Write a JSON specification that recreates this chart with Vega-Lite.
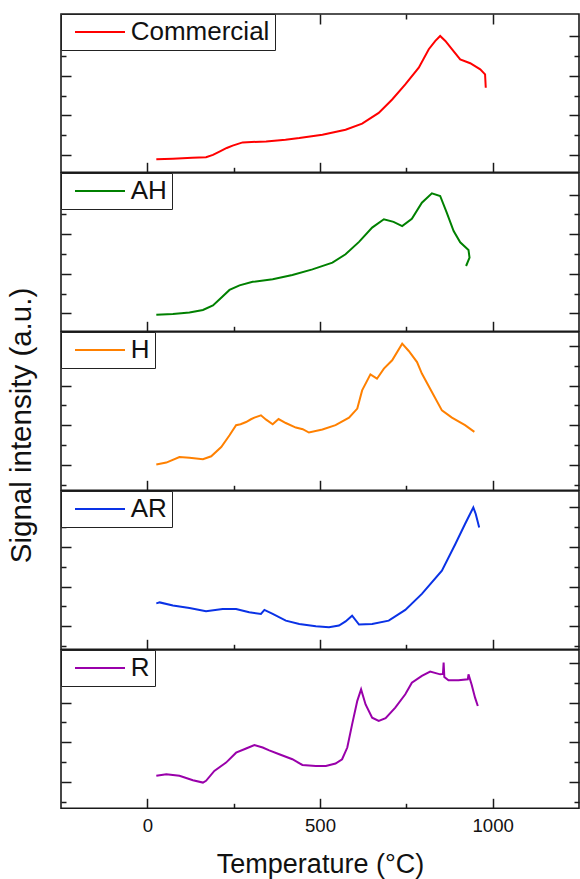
{
  "$schema": "https://vega.github.io/schema/vega-lite/v6.json",
  "autosize": {"type": "pad"},
  "padding": {"left": 5, "top": 12, "right": 0, "bottom": 8},
  "background": "white",
  "spacing": 0,
  "bounds": "flush",
  "config": {
    "font": "Liberation Sans",
    "view": {"stroke": "#1a1a1a", "strokeWidth": 1.6},
    "axis": {"domain": false, "grid": false, "labels": false, "tickColor": "#1a1a1a", "tickWidth": 1.5, "labelFont": "Liberation Sans", "titleFont": "Liberation Sans", "labelColor": "#111", "titleColor": "#111", "titleFontWeight": "normal"},
    "legend": {"titleFont": "Liberation Sans"},
    "line": {"strokeWidth": 2}
  },
  "resolve": {"scale": {"color": "independent", "x": "independent", "y": "independent"}, "legend": {"color": "independent"}},
  "datasets": {
    "commercial": [
      {"n":1,"t":26,"s":-0.22},{"n":2,"t":74,"s":-0.19},{"n":3,"t":130,"s":-0.15},{"n":4,"t":170,"s":-0.12},{"n":5,"t":190,"s":0.0},{"n":6,"t":209,"s":0.17},{"n":7,"t":230,"s":0.35},{"n":8,"t":247,"s":0.47},{"n":9,"t":276,"s":0.63},{"n":10,"t":344,"s":0.68},{"n":11,"t":400,"s":0.77},{"n":12,"t":440,"s":0.85},{"n":13,"t":507,"s":1.02},{"n":14,"t":574,"s":1.27},{"n":15,"t":622,"s":1.58},{"n":16,"t":670,"s":2.12},{"n":17,"t":709,"s":2.80},{"n":18,"t":747,"s":3.56},{"n":19,"t":786,"s":4.41},{"n":20,"t":815,"s":5.34},{"n":21,"t":834,"s":5.76},{"n":22,"t":848,"s":6.01},{"n":23,"t":863,"s":5.76},{"n":24,"t":882,"s":5.34},{"n":25,"t":906,"s":4.83},{"n":26,"t":935,"s":4.63},{"n":27,"t":964,"s":4.32},{"n":28,"t":978,"s":4.07},{"n":29,"t":980,"s":3.39}
    ],
    "ah": [
      {"n":1,"t":26,"s":-0.07},{"n":2,"t":74,"s":-0.03},{"n":3,"t":122,"s":0.04},{"n":4,"t":161,"s":0.17},{"n":5,"t":190,"s":0.40},{"n":6,"t":214,"s":0.79},{"n":7,"t":238,"s":1.18},{"n":8,"t":267,"s":1.41},{"n":9,"t":305,"s":1.59},{"n":10,"t":363,"s":1.72},{"n":11,"t":420,"s":1.94},{"n":12,"t":478,"s":2.22},{"n":13,"t":536,"s":2.56},{"n":14,"t":574,"s":2.98},{"n":15,"t":613,"s":3.61},{"n":16,"t":651,"s":4.33},{"n":17,"t":685,"s":4.75},{"n":18,"t":713,"s":4.62},{"n":19,"t":738,"s":4.41},{"n":20,"t":766,"s":4.78},{"n":21,"t":795,"s":5.59},{"n":22,"t":824,"s":6.06},{"n":23,"t":848,"s":5.93},{"n":24,"t":867,"s":5.09},{"n":25,"t":887,"s":4.16},{"n":26,"t":906,"s":3.59},{"n":27,"t":930,"s":3.20},{"n":28,"t":933,"s":2.81},{"n":29,"t":923,"s":2.39}
    ],
    "h": [
      {"n":1,"t":26,"s":1.01},{"n":2,"t":55,"s":1.11},{"n":3,"t":93,"s":1.39},{"n":4,"t":122,"s":1.36},{"n":5,"t":161,"s":1.28},{"n":6,"t":185,"s":1.43},{"n":7,"t":214,"s":1.90},{"n":8,"t":238,"s":2.49},{"n":9,"t":257,"s":3.00},{"n":10,"t":270,"s":3.05},{"n":11,"t":286,"s":3.16},{"n":12,"t":300,"s":3.30},{"n":13,"t":310,"s":3.38},{"n":14,"t":329,"s":3.50},{"n":15,"t":344,"s":3.28},{"n":16,"t":363,"s":3.05},{"n":17,"t":380,"s":3.31},{"n":18,"t":401,"s":3.11},{"n":19,"t":430,"s":2.88},{"n":20,"t":450,"s":2.80},{"n":21,"t":468,"s":2.63},{"n":22,"t":507,"s":2.78},{"n":23,"t":545,"s":3.00},{"n":24,"t":584,"s":3.38},{"n":25,"t":608,"s":3.84},{"n":26,"t":622,"s":4.76},{"n":27,"t":646,"s":5.57},{"n":28,"t":665,"s":5.35},{"n":29,"t":685,"s":5.86},{"n":30,"t":709,"s":6.28},{"n":31,"t":738,"s":7.12},{"n":32,"t":757,"s":6.75},{"n":33,"t":781,"s":6.19},{"n":34,"t":795,"s":5.61},{"n":35,"t":824,"s":4.68},{"n":36,"t":853,"s":3.75},{"n":37,"t":882,"s":3.38},{"n":38,"t":920,"s":3.00},{"n":39,"t":947,"s":2.66}
    ],
    "ar": [
      {"n":1,"t":26,"s":2.15},{"n":2,"t":36,"s":2.20},{"n":3,"t":74,"s":2.04},{"n":4,"t":122,"s":1.92},{"n":5,"t":170,"s":1.75},{"n":6,"t":218,"s":1.87},{"n":7,"t":257,"s":1.87},{"n":8,"t":295,"s":1.70},{"n":9,"t":329,"s":1.62},{"n":10,"t":339,"s":1.82},{"n":11,"t":363,"s":1.62},{"n":12,"t":401,"s":1.28},{"n":13,"t":440,"s":1.11},{"n":14,"t":488,"s":0.99},{"n":15,"t":526,"s":0.94},{"n":16,"t":555,"s":1.03},{"n":17,"t":574,"s":1.24},{"n":18,"t":593,"s":1.53},{"n":19,"t":613,"s":1.08},{"n":20,"t":651,"s":1.11},{"n":21,"t":699,"s":1.28},{"n":22,"t":747,"s":1.82},{"n":23,"t":795,"s":2.63},{"n":24,"t":853,"s":3.80},{"n":25,"t":892,"s":5.15},{"n":26,"t":920,"s":6.16},{"n":27,"t":944,"s":7.00},{"n":28,"t":951,"s":6.67},{"n":29,"t":961,"s":5.99}
    ],
    "r": [
      {"n":1,"t":26,"s":1.30},{"n":2,"t":55,"s":1.38},{"n":3,"t":93,"s":1.30},{"n":4,"t":132,"s":1.08},{"n":5,"t":161,"s":0.96},{"n":6,"t":170,"s":1.05},{"n":7,"t":194,"s":1.55},{"n":8,"t":228,"s":1.97},{"n":9,"t":257,"s":2.47},{"n":10,"t":286,"s":2.68},{"n":11,"t":310,"s":2.86},{"n":12,"t":334,"s":2.73},{"n":13,"t":353,"s":2.59},{"n":14,"t":382,"s":2.39},{"n":15,"t":420,"s":2.14},{"n":16,"t":449,"s":1.85},{"n":17,"t":488,"s":1.80},{"n":18,"t":517,"s":1.80},{"n":19,"t":545,"s":1.92},{"n":20,"t":564,"s":2.14},{"n":21,"t":579,"s":2.73},{"n":22,"t":593,"s":3.90},{"n":23,"t":608,"s":5.09},{"n":24,"t":619,"s":5.67},{"n":25,"t":632,"s":4.91},{"n":26,"t":651,"s":4.24},{"n":27,"t":670,"s":4.08},{"n":28,"t":690,"s":4.21},{"n":29,"t":718,"s":4.75},{"n":30,"t":747,"s":5.42},{"n":31,"t":766,"s":6.01},{"n":32,"t":795,"s":6.35},{"n":33,"t":819,"s":6.57},{"n":34,"t":848,"s":6.43},{"n":35,"t":856,"s":6.45},{"n":36,"t":858,"s":7.02},{"n":37,"t":860,"s":6.30},{"n":38,"t":872,"s":6.13},{"n":39,"t":901,"s":6.13},{"n":40,"t":928,"s":6.18},{"n":41,"t":930,"s":6.43},{"n":42,"t":939,"s":5.92},{"n":43,"t":949,"s":5.25},{"n":44,"t":957,"s":4.83}
    ]
  },
  "vconcat": [
    {
      "width": 518, "height": 158.3,
      "data": {"name": "commercial"},
      "layer": [
        {"mark": {"type": "line", "strokeWidth": 2},
         "encoding": {
           "x": {"field": "t", "type": "quantitative", "scale": {"domain": [-250, 1250], "nice": false, "zero": false}, "axis": {"orient": "bottom", "values": [0, 250, 500, 750, 1000], "title": null, "tickSize": {"condition": {"test": "datum.value % 500 === 0", "value": -10}, "value": -5}}},
           "y": {"field": "s", "type": "quantitative", "scale": {"domain": [-0.88, 7.12], "nice": false, "zero": false}, "axis": {"orient": "left", "values": [0, 1, 2, 3, 4, 5, 6], "title": null, "tickSize": {"condition": {"test": "datum.value % 2 === 0", "value": -10}, "value": -5}}},
           "color": {"datum": "Commercial", "type": "nominal", "scale": {"domain": ["Commercial"], "range": ["#ff0000"]}, "legend": {"title": null, "orient": "top-left", "offset": 0, "padding": 5, "strokeColor": "#222", "fillColor": "white", "symbolType": "M -1 0 H 11.5", "symbolSize": 64, "symbolStrokeWidth": 2, "labelFontSize": 26, "labelFont": "Liberation Sans", "labelColor": "#111", "labelOffset": 38.7, "labelLimit": 400}},
           "order": {"field": "n", "type": "quantitative"}
         }},
        {"mark": {"type": "line", "opacity": 0},
         "encoding": {
           "x": {"field": "t", "type": "quantitative", "scale": {"domain": [-250, 1250], "nice": false, "zero": false}, "axis": {"orient": "top", "values": [0, 250, 500, 750, 1000], "title": null, "tickSize": {"condition": {"test": "datum.value % 500 === 0", "value": -10}, "value": -5}}},
           "y": {"field": "s", "type": "quantitative", "scale": {"domain": [-0.88, 7.12], "nice": false, "zero": false}, "axis": {"orient": "right", "values": [0, 1, 2, 3, 4, 5, 6], "title": null, "tickSize": {"condition": {"test": "datum.value % 2 === 0", "value": -10}, "value": -5}}},
           "order": {"field": "n", "type": "quantitative"}
         }}
      ],
      "resolve": {"axis": {"x": "independent", "y": "independent"}}
    },
    {
      "width": 518, "height": 158.3,
      "data": {"name": "ah"},
      "layer": [
        {"mark": {"type": "line", "strokeWidth": 2},
         "encoding": {
           "x": {"field": "t", "type": "quantitative", "scale": {"domain": [-250, 1250], "nice": false, "zero": false}, "axis": {"orient": "bottom", "values": [0, 250, 500, 750, 1000], "title": null, "tickSize": {"condition": {"test": "datum.value % 500 === 0", "value": -10}, "value": -5}}},
           "y": {"field": "s", "type": "quantitative", "scale": {"domain": [-0.91, 7.09], "nice": false, "zero": false}, "axis": {"orient": "left", "values": [0, 1, 2, 3, 4, 5, 6], "title": null, "tickSize": {"condition": {"test": "datum.value % 2 === 0", "value": -10}, "value": -5}}},
           "color": {"datum": "AH", "type": "nominal", "scale": {"domain": ["AH"], "range": ["#008000"]}, "legend": {"title": null, "orient": "top-left", "offset": 0, "padding": 5, "strokeColor": "#222", "fillColor": "white", "symbolType": "M -1 0 H 11.5", "symbolSize": 64, "symbolStrokeWidth": 2, "labelFontSize": 26, "labelFont": "Liberation Sans", "labelColor": "#111", "labelOffset": 38.7, "labelLimit": 400}},
           "order": {"field": "n", "type": "quantitative"}
         }},
        {"mark": {"type": "line", "opacity": 0},
         "encoding": {
           "x": {"field": "t", "type": "quantitative", "scale": {"domain": [-250, 1250], "nice": false, "zero": false}, "axis": null},
           "y": {"field": "s", "type": "quantitative", "scale": {"domain": [-0.91, 7.09], "nice": false, "zero": false}, "axis": {"orient": "right", "values": [0, 1, 2, 3, 4, 5, 6], "title": null, "tickSize": {"condition": {"test": "datum.value % 2 === 0", "value": -10}, "value": -5}}},
           "order": {"field": "n", "type": "quantitative"}
         }}
      ],
      "resolve": {"axis": {"x": "independent", "y": "independent"}}
    },
    {
      "width": 518, "height": 158.3,
      "data": {"name": "h"},
      "layer": [
        {"mark": {"type": "line", "strokeWidth": 2},
         "encoding": {
           "x": {"field": "t", "type": "quantitative", "scale": {"domain": [-250, 1250], "nice": false, "zero": false}, "axis": {"orient": "bottom", "values": [0, 250, 500, 750, 1000], "title": null, "tickSize": {"condition": {"test": "datum.value % 500 === 0", "value": -10}, "value": -5}}},
           "y": {"field": "s", "type": "quantitative", "scale": {"domain": [-0.29, 7.71], "nice": false, "zero": false}, "axis": {"orient": "left", "values": [0, 1, 2, 3, 4, 5, 6, 7], "title": "Signal intensity (a.u.)", "titleFontSize": 29.5, "titleX": -25, "titleY": 93, "titleAngle": -90, "titleAlign": "center", "titleBaseline": "bottom", "tickSize": {"condition": {"test": "datum.value % 2 === 1", "value": -10}, "value": -5}}},
           "color": {"datum": "H", "type": "nominal", "scale": {"domain": ["H"], "range": ["#ff8000"]}, "legend": {"title": null, "orient": "top-left", "offset": 0, "padding": 5, "strokeColor": "#222", "fillColor": "white", "symbolType": "M -1 0 H 11.5", "symbolSize": 64, "symbolStrokeWidth": 2, "labelFontSize": 26, "labelFont": "Liberation Sans", "labelColor": "#111", "labelOffset": 38.7, "labelLimit": 400}},
           "order": {"field": "n", "type": "quantitative"}
         }},
        {"mark": {"type": "line", "opacity": 0},
         "encoding": {
           "x": {"field": "t", "type": "quantitative", "scale": {"domain": [-250, 1250], "nice": false, "zero": false}, "axis": null},
           "y": {"field": "s", "type": "quantitative", "scale": {"domain": [-0.29, 7.71], "nice": false, "zero": false}, "axis": {"orient": "right", "values": [0, 1, 2, 3, 4, 5, 6, 7], "title": null, "tickSize": {"condition": {"test": "datum.value % 2 === 1", "value": -10}, "value": -5}}},
           "order": {"field": "n", "type": "quantitative"}
         }}
      ],
      "resolve": {"axis": {"x": "independent", "y": "independent"}}
    },
    {
      "width": 518, "height": 158.3,
      "data": {"name": "ar"},
      "layer": [
        {"mark": {"type": "line", "strokeWidth": 2},
         "encoding": {
           "x": {"field": "t", "type": "quantitative", "scale": {"domain": [-250, 1250], "nice": false, "zero": false}, "axis": {"orient": "bottom", "values": [0, 250, 500, 750, 1000], "title": null, "tickSize": {"condition": {"test": "datum.value % 500 === 0", "value": -10}, "value": -5}}},
           "y": {"field": "s", "type": "quantitative", "scale": {"domain": [-0.17, 7.83], "nice": false, "zero": false}, "axis": {"orient": "left", "values": [0, 1, 2, 3, 4, 5, 6, 7], "title": null, "tickSize": {"condition": {"test": "datum.value % 2 === 1", "value": -10}, "value": -5}}},
           "color": {"datum": "AR", "type": "nominal", "scale": {"domain": ["AR"], "range": ["#0a32e6"]}, "legend": {"title": null, "orient": "top-left", "offset": 0, "padding": 5, "strokeColor": "#222", "fillColor": "white", "symbolType": "M -1 0 H 11.5", "symbolSize": 64, "symbolStrokeWidth": 2, "labelFontSize": 26, "labelFont": "Liberation Sans", "labelColor": "#111", "labelOffset": 38.7, "labelLimit": 400}},
           "order": {"field": "n", "type": "quantitative"}
         }},
        {"mark": {"type": "line", "opacity": 0},
         "encoding": {
           "x": {"field": "t", "type": "quantitative", "scale": {"domain": [-250, 1250], "nice": false, "zero": false}, "axis": null},
           "y": {"field": "s", "type": "quantitative", "scale": {"domain": [-0.17, 7.83], "nice": false, "zero": false}, "axis": {"orient": "right", "values": [0, 1, 2, 3, 4, 5, 6, 7], "title": null, "tickSize": {"condition": {"test": "datum.value % 2 === 1", "value": -10}, "value": -5}}},
           "order": {"field": "n", "type": "quantitative"}
         }}
      ],
      "resolve": {"axis": {"x": "independent", "y": "independent"}}
    },
    {
      "width": 518, "height": 158.3,
      "data": {"name": "r"},
      "layer": [
        {"mark": {"type": "line", "strokeWidth": 2},
         "encoding": {
           "x": {"field": "t", "type": "quantitative", "scale": {"domain": [-250, 1250], "nice": false, "zero": false}, "axis": {"orient": "bottom", "values": [0, 250, 500, 750, 1000], "format": "d", "labels": true, "labelExpr": "datum.value % 500 === 0 ? datum.label : ''", "labelFontSize": 18.6, "labelPadding": 18.6, "labelFlush": false, "title": "Temperature (°C)", "titleFontSize": 27, "titlePadding": 16, "tickSize": {"condition": {"test": "datum.value % 500 === 0", "value": -10}, "value": -5}}},
           "y": {"field": "s", "type": "quantitative", "scale": {"domain": [-0.34, 7.66], "nice": false, "zero": false}, "axis": {"orient": "left", "values": [0, 1, 2, 3, 4, 5, 6, 7], "title": null, "tickSize": {"condition": {"test": "datum.value % 2 === 1", "value": -10}, "value": -5}}},
           "color": {"datum": "R", "type": "nominal", "scale": {"domain": ["R"], "range": ["#9900aa"]}, "legend": {"title": null, "orient": "top-left", "offset": 0, "padding": 5, "strokeColor": "#222", "fillColor": "white", "symbolType": "M -1 0 H 11.5", "symbolSize": 64, "symbolStrokeWidth": 2, "labelFontSize": 26, "labelFont": "Liberation Sans", "labelColor": "#111", "labelOffset": 38.7, "labelLimit": 400}},
           "order": {"field": "n", "type": "quantitative"}
         }},
        {"mark": {"type": "line", "opacity": 0},
         "encoding": {
           "x": {"field": "t", "type": "quantitative", "scale": {"domain": [-250, 1250], "nice": false, "zero": false}, "axis": null},
           "y": {"field": "s", "type": "quantitative", "scale": {"domain": [-0.34, 7.66], "nice": false, "zero": false}, "axis": {"orient": "right", "values": [0, 1, 2, 3, 4, 5, 6, 7], "title": null, "tickSize": {"condition": {"test": "datum.value % 2 === 1", "value": -10}, "value": -5}}},
           "order": {"field": "n", "type": "quantitative"}
         }}
      ],
      "resolve": {"axis": {"x": "independent", "y": "independent"}}
    }
  ]
}
